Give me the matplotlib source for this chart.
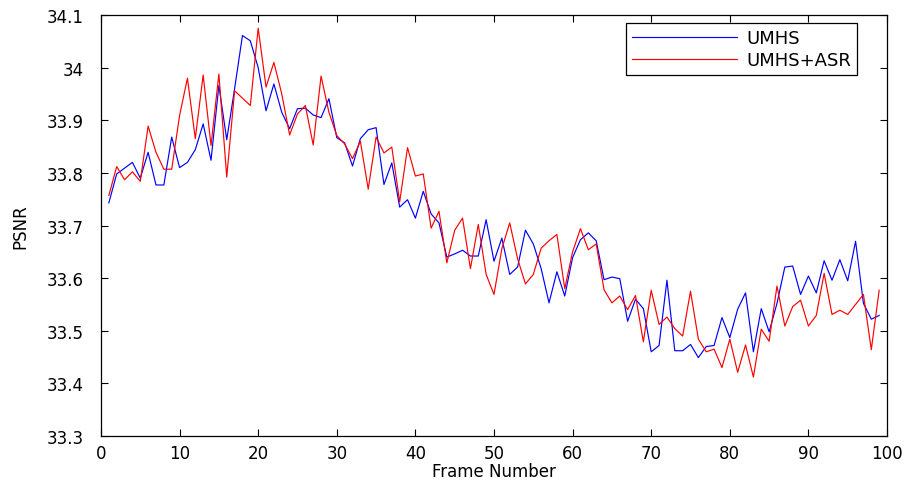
import matplotlib
matplotlib.use("Agg")
import matplotlib.pyplot as plt
import numpy as np

plt.rcParams['font.family'] = ['DejaVu Sans']

frames = list(range(1, 100))

umhs = [33.743, 33.798, 33.809, 33.820, 33.790, 33.839, 33.777, 33.777, 33.868, 33.810,
        33.820, 33.844, 33.893, 33.824, 33.966, 33.863, 33.960, 34.061, 34.051, 34.000,
        33.918, 33.969, 33.915, 33.884, 33.922, 33.923, 33.910, 33.905, 33.941, 33.867,
        33.857, 33.813, 33.865, 33.882, 33.886, 33.778, 33.819, 33.735, 33.749, 33.714,
        33.765, 33.722, 33.705, 33.640, 33.646, 33.653, 33.642, 33.642, 33.711, 33.632,
        33.676, 33.607, 33.621, 33.691, 33.665, 33.618, 33.553, 33.612, 33.566, 33.639,
        33.673, 33.686, 33.671, 33.597, 33.602, 33.599, 33.518, 33.560, 33.542, 33.460,
        33.472, 33.596, 33.462, 33.462, 33.474, 33.449, 33.470, 33.472, 33.525, 33.487,
        33.541, 33.572, 33.460, 33.542, 33.498, 33.552, 33.621, 33.623, 33.569, 33.604,
        33.572, 33.633, 33.596, 33.635, 33.595, 33.670, 33.552, 33.522, 33.529]

umhs_asr = [33.757, 33.812, 33.787, 33.802, 33.784, 33.889, 33.839, 33.807, 33.807, 33.909,
            33.980, 33.865, 33.986, 33.852, 33.988, 33.792, 33.956, 33.942, 33.928, 34.075,
            33.963, 34.010, 33.950, 33.872, 33.912, 33.928, 33.853, 33.984, 33.915, 33.871,
            33.855, 33.827, 33.860, 33.769, 33.868, 33.838, 33.849, 33.745, 33.848, 33.794,
            33.798, 33.695, 33.727, 33.629, 33.691, 33.714, 33.618, 33.702, 33.607, 33.569,
            33.656, 33.705, 33.637, 33.589, 33.607, 33.657, 33.671, 33.683, 33.580, 33.650,
            33.694, 33.654, 33.665, 33.578, 33.553, 33.566, 33.540, 33.567, 33.479, 33.577,
            33.512, 33.526, 33.504, 33.490, 33.575, 33.484, 33.460, 33.465, 33.430, 33.484,
            33.421, 33.473, 33.412, 33.503, 33.480, 33.585, 33.509, 33.546, 33.558, 33.509,
            33.529, 33.609, 33.531, 33.539, 33.531, 33.550, 33.569, 33.464, 33.577]

xticks = list(range(0, 101, 10))
yticks = [33.3, 33.4, 33.5, 33.6, 33.7, 33.8, 33.9, 34.0, 34.1]
ytick_labels = ['33.3', '33.4', '33.5', '33.6', '33.7', '33.8', '33.9', '34', '34.1']

fig = plt.figure(figsize=(9.08, 4.81), dpi=100)
ax = fig.add_axes([0.1112, 0.0915, 0.8657, 0.8752])

ax.plot(frames, umhs, color='#0000ff', lw=0.85, label='UMHS')
ax.plot(frames, umhs_asr, color='#ff0000', lw=0.85, label='UMHS+ASR')

ax.set_xlim(0, 100)
ax.set_ylim(33.3, 34.1)
ax.set_xticks(xticks)
ax.set_yticks(yticks)
ax.set_yticklabels(ytick_labels)
ax.tick_params(direction='in', top=True, right=True, labelsize=12, length=5, width=0.8)
ax.tick_params(axis='y', pad=12.5)
ax.tick_params(axis='x', pad=6)
for s in ax.spines.values():
    s.set_linewidth(0.9)

ax.set_xlabel('Frame Number', fontsize=12, labelpad=0)
ax.set_ylabel('PSNR', fontsize=12, labelpad=12)

leg = ax.legend(loc='upper right', bbox_to_anchor=(0.962, 0.981), fontsize=13,
                fancybox=False, framealpha=1, edgecolor='black', handlelength=5.8,
                borderpad=0.35, labelspacing=0.2, handletextpad=0.5, borderaxespad=0)
leg.get_frame().set_linewidth(0.9)

fig.savefig('out.png', dpi=100)
